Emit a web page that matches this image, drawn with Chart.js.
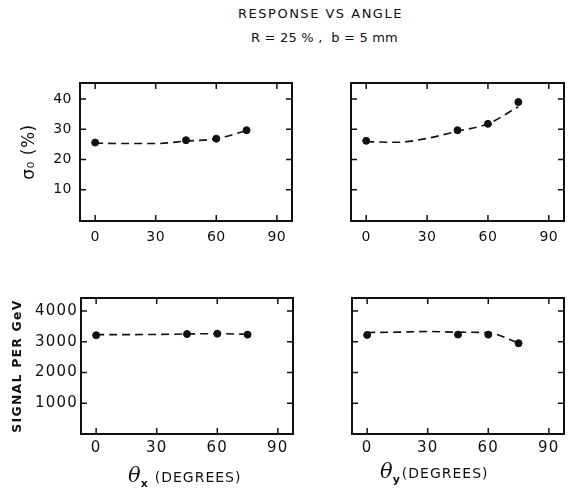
<!DOCTYPE html>
<html>
<head>
<meta charset="utf-8">
<script src="https://cdn.jsdelivr.net/npm/chart.js@4/dist/chart.umd.min.js"></script>
<style>
    body { margin: 0; background: #fff; width: 569px; height: 490px; position: relative; overflow: hidden; }
    .title { position: absolute; width: 569px; text-align: center; font-family: "DejaVu Sans", sans-serif; font-size: 13px; color: #111; }
    canvas { position: absolute; }
</style>
</head>
<body>
<div class="title" style="top: 6px; left: 36px; letter-spacing: 1.5px;">RESPONSE VS ANGLE</div>
<div class="title" style="top: 30px; left: 40px; letter-spacing: 0.2px;">R = 25 % ,&nbsp; b = 5 mm</div>
<canvas id="sigmaX" style="left:0px; top:60px;" width="300" height="190"></canvas>
<canvas id="sigmaY" style="left:290px; top:60px;" width="279" height="190"></canvas>
<canvas id="signalX" style="left:0px; top:280px;" width="300" height="210"></canvas>
<canvas id="signalY" style="left:290px; top:280px;" width="279" height="210"></canvas>
<script>
// measured points
const angles = [0, 45, 60, 75];
const sigmaXVals = [25.6, 26.4, 26.9, 29.7];
const sigmaYVals = [26.2, 29.7, 31.8, 39.0];
const signalXVals = [3210, 3250, 3260, 3230];
const signalYVals = [3220, 3230, 3230, 2950];

// dashed guide curves
const curveAngles = [0, 15, 30, 45, 60, 75];
const sigmaXCurve = [25.4, 25.3, 25.3, 26.1, 26.9, 29.6];
const sigmaYCurve = [25.9, 25.7, 27.0, 29.4, 31.8, 37.5];
const signalXCurve = [3230, 3230, 3235, 3250, 3260, 3240];
const signalYCurve = [3300, 3310, 3330, 3310, 3290, 2960];

const xTicks = [0, 30, 60, 90];
const sigmaTicks = [10, 20, 30, 40];
const signalTicks = [1000, 2000, 3000, 4000];

const ink = '#111';

// spacing between letters for the tick digits
const spacing = {
    id: 'spacing',
    beforeDraw(chart, args, opts) {
        chart.ctx.letterSpacing = opts.px || '0px';
    }
};

const frameTicks = {
    id: 'frameTicks',
    afterDatasetsDraw(chart) {
        const { ctx, chartArea: a, scales: { x, y } } = chart;
        ctx.save();
        ctx.strokeStyle = ink;
        ctx.lineWidth = 1.5;
        ctx.beginPath();
        x.ticks.forEach(t => {
            const px = x.getPixelForValue(t.value);
            ctx.moveTo(px, a.bottom); ctx.lineTo(px, a.bottom - 6);
            ctx.moveTo(px, a.top); ctx.lineTo(px, a.top + 6);
        });
        y.ticks.forEach(t => {
            const py = y.getPixelForValue(t.value);
            ctx.moveTo(a.left, py); ctx.lineTo(a.left + 6, py);
            ctx.moveTo(a.right, py); ctx.lineTo(a.right - 6, py);
        });
        ctx.stroke();
        ctx.lineWidth = 2;
        ctx.strokeRect(a.left, a.top, a.width, a.height);
        ctx.restore();
    }
};

// theta label with a subscript, under the bottom panels
const thetaTitle = {
    id: 'thetaTitle',
    afterDraw(chart, args, opts) {
        if (!opts.sub) return;
        const ctx = chart.ctx;
        ctx.save();
        ctx.letterSpacing = '0px';
        ctx.fillStyle = ink;
        ctx.textBaseline = 'alphabetic';
        let x = opts.x;
        ctx.font = 'italic 21px "DejaVu Serif"';
        ctx.fillText('θ', x, opts.y);
        x += ctx.measureText('θ').width;
        ctx.font = 'bold 11px "DejaVu Sans"';
        ctx.fillText(opts.sub, x, opts.y + 5);
        x += ctx.measureText(opts.sub).width + opts.gap;
        ctx.letterSpacing = '1px';
        ctx.font = '14px "DejaVu Sans"';
        ctx.fillText('(DEGREES)', x, opts.y);
        ctx.restore();
    }
};

function makeChart(id, cfg) {
    const points = cfg.vals.map((v, i) => ({ x: angles[i], y: v }));
    const curve = cfg.curve.map((v, i) => ({ x: curveAngles[i], y: v }));
    const font = { family: 'DejaVu Sans', size: cfg.fontSize };
    return new Chart(document.getElementById(id), {
        type: 'line',
        data: {
            datasets: [{
                data: points,
                showLine: false,
                pointRadius: 3.5,
                pointBackgroundColor: ink,
                pointBorderColor: ink,
                order: 0
            }, {
                data: curve,
                borderColor: ink,
                borderWidth: 1.6,
                borderDash: [8, 5],
                pointRadius: 0,
                tension: 0.4,
                cubicInterpolationMode: 'monotone',
                fill: false,
                order: 1
            }]
        },
        options: {
            responsive: false,
            animation: false,
            events: [],
            layout: { padding: cfg.padding },
            plugins: {
                legend: { display: false },
                tooltip: { enabled: false },
                spacing: { px: cfg.spacing },
                thetaTitle: cfg.theta || {}
            },
            scales: {
                x: {
                    type: 'linear',
                    min: -7.5,
                    max: 97.5,
                    grid: { display: false, drawTicks: false },
                    border: { display: false },
                    afterBuildTicks: s => { s.ticks = xTicks.map(v => ({ value: v })); },
                    afterFit: s => { s.height = cfg.xHeight; },
                    ticks: { color: ink, font: font, padding: cfg.xPad, maxRotation: 0, callback: v => String(v) }
                },
                y: {
                    min: cfg.yMin,
                    max: cfg.yMax,
                    grid: { display: false, drawTicks: false },
                    border: { display: false },
                    afterBuildTicks: s => { s.ticks = cfg.yTicks.map(v => ({ value: v })); },
                    afterFit: s => { s.width = cfg.yWidth; },
                    ticks: { display: cfg.showY, color: ink, font: font, padding: cfg.yPad, callback: v => String(v) },
                    title: cfg.yTitle || { display: false }
                }
            }
        },
        plugins: [spacing, frameTicks, thetaTitle]
    });
}

makeChart('sigmaX', {
    vals: sigmaXVals, curve: sigmaXCurve, yTicks: sigmaTicks, yMin: -0.3, yMax: 45.3,
    padding: { top: 23, right: 8, left: 0, bottom: 0 }, yWidth: 80, xHeight: 29, showY: true,
    fontSize: 14, spacing: '0.5px', xPad: 8, yPad: 8,
    yTitle: { display: true, text: 'σ₀ (%)', color: ink, font: { family: 'DejaVu Sans', size: 17 }, padding: { top: 19, bottom: 0 } }
});
makeChart('sigmaY', {
    vals: sigmaYVals, curve: sigmaYCurve, yTicks: sigmaTicks, yMin: -0.3, yMax: 45.3,
    padding: { top: 23, right: 5, left: 0, bottom: 0 }, yWidth: 61, xHeight: 29, showY: false,
    fontSize: 14, spacing: '0.5px', xPad: 8, yPad: 8
});
makeChart('signalX', {
    vals: signalXVals, curve: signalXCurve, yTicks: signalTicks, yMin: 0, yMax: 4420,
    padding: { top: 18, right: 7, left: 0, bottom: 0 }, yWidth: 81, xHeight: 56, showY: true,
    fontSize: 15, spacing: '1.2px', xPad: 5, yPad: 3,
    yTitle: { display: true, text: 'SIGNAL PER GeV', color: ink, font: { family: 'DejaVu Sans', size: 12.5, weight: 'bold' }, padding: { top: 10, bottom: 0 } },
    theta: { sub: 'x', x: 128, y: 202, gap: 7 }
});
makeChart('signalY', {
    vals: signalYVals, curve: signalYCurve, yTicks: signalTicks, yMin: 0, yMax: 4420,
    padding: { top: 18, right: 5, left: 0, bottom: 0 }, yWidth: 62, xHeight: 56, showY: false,
    fontSize: 15, spacing: '1.2px', xPad: 5, yPad: 3,
    theta: { sub: 'y', x: 90, y: 198, gap: 2 }
});
</script>
</body>
</html>
